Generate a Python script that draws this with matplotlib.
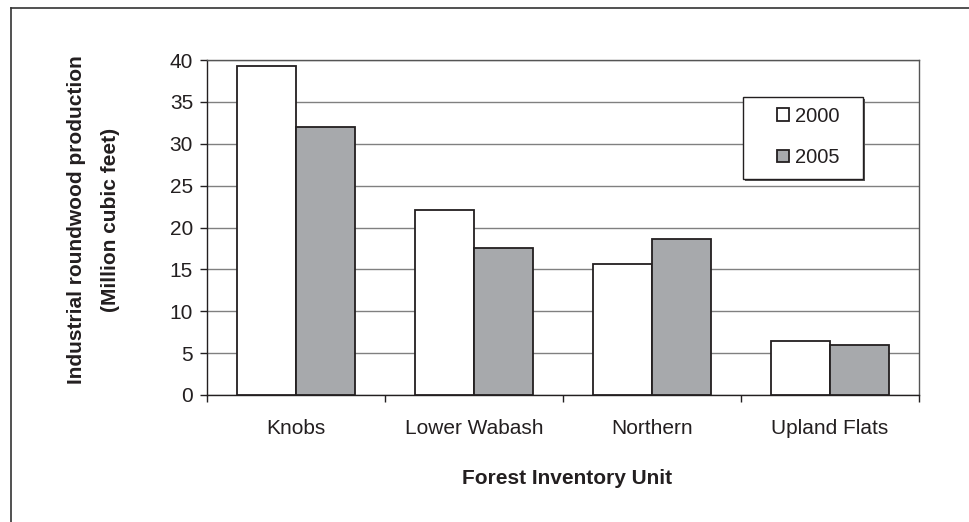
import numpy as np
import matplotlib
matplotlib.use('Agg')
import matplotlib.pyplot as plt
from matplotlib.patches import Rectangle
from matplotlib.lines import Line2D

plt.rcParams['font.family'] = ['Liberation Sans', 'DejaVu Sans']

# data
units = ['Knobs', 'Lower Wabash', 'Northern', 'Upland Flats']
years = ['2000', '2005']
prod_2000 = [39.3, 22.1, 15.7, 6.4]
prod_2005 = [32.0, 17.6, 18.6, 6.0]

edge = '#231f20'
gray = '#a7a9ac'
grid_c = '#808080'
fs = 15

fig = plt.figure(figsize=(9.69, 5.22), dpi=100)
ax = fig.add_axes([207/969, 1-395/522, (919-207)/969, (395-60)/522])

x = np.arange(len(units))
w = 1/3
b1 = ax.bar(x - w/2, prod_2000, w, color='white', edgecolor=edge, linewidth=1.3, label=years[0], zorder=3)
b2 = ax.bar(x + w/2, prod_2005, w, color=gray, edgecolor=edge, linewidth=1.3, label=years[1], zorder=3)

ax.set_xlim(-0.5, len(units) - 0.5)
ax.set_ylim(0, 40)
ax.set_yticks(np.arange(0, 41, 5))
ax.yaxis.grid(True, color=grid_c, linewidth=1.0, zorder=0)
ax.set_axisbelow(True)

# category boundaries get the ticks, names sit in the middle
ax.set_xticks(np.arange(len(units) + 1) - 0.5)
ax.set_xticklabels([])
ax.set_xticks(x, units, minor=True)
ax.tick_params(axis='x', which='minor', length=0, pad=17, labelsize=fs, colors='#231f20')
ax.tick_params(axis='x', which='major', length=5, width=1, color=edge)
ax.tick_params(axis='y', length=5, width=1, color=edge, pad=5, labelsize=fs, labelcolor='#231f20')

for s in ax.spines.values():
    s.set_color(edge)
    s.set_linewidth(1.0)
ax.spines['top'].set_color('#555555')
ax.spines['right'].set_color('#555555')

# axis titles
fig.text(77/969, 1-220/522, 'Industrial roundwood production', rotation=90,
         ha='center', va='center', fontsize=fs, fontweight='bold', color='#231f20')
fig.text(110/969, 1-220/522, '(Million cubic feet)', rotation=90,
         ha='center', va='center', fontsize=fs, fontweight='bold', color='#231f20')
fig.text(567/969, 1-479/522, 'Forest Inventory Unit', ha='center', va='center',
         fontsize=fs, fontweight='bold', color='#231f20')

# legend box with a little shadow
lx0, ly0, lx1, ly1 = 743, 97, 863, 179
fig.patches.append(Rectangle((lx0/969 + 2/969, 1-ly1/522 - 2/522), (lx1-lx0)/969, (ly1-ly0)/522,
                             transform=fig.transFigure, facecolor='#555555', edgecolor='none', zorder=4))
fig.patches.append(Rectangle((lx0/969, 1-ly1/522), (lx1-lx0)/969, (ly1-ly0)/522,
                             transform=fig.transFigure, facecolor='white', edgecolor=edge,
                             linewidth=1.0, zorder=5))
leg = fig.legend(handles=[b1, b2], labels=years, loc='center', bbox_to_anchor=(808/969, 1-137/522),
                 frameon=False, fontsize=14.5, handlelength=0.6, handleheight=0.6,
                 handletextpad=0.3, labelspacing=1.1)
leg.set_zorder(6)
for t in leg.get_texts():
    t.set_color('#231f20')

# outer frame, only top and left edges are in view
fig.add_artist(Line2D([11/969, 1], [1-8/522, 1-8/522], transform=fig.transFigure, color='#333333', linewidth=1.2))
fig.add_artist(Line2D([11/969, 11/969], [0, 1-8/522], transform=fig.transFigure, color='#333333', linewidth=1.2))

fig.savefig('out.png', dpi=100)
